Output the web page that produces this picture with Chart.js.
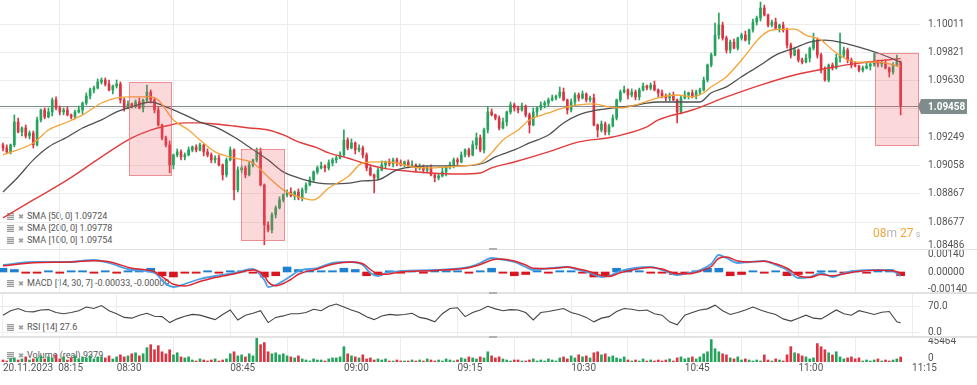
<!DOCTYPE html>
<html>
<head>
<meta charset="utf-8">
<title>EUR/USD 30s chart</title>
<script src="https://cdn.jsdelivr.net/npm/chart.js@4.4.1/dist/chart.umd.min.js"></script>
<style>
html,body{margin:0;padding:0;background:#ffffff;}
#wrap{position:relative;width:977px;height:385px;overflow:hidden;font-family:Roboto,"Liberation Sans",Arial,sans-serif;}
#wrap canvas{position:absolute;left:0;top:0;z-index:1;}
.lg{position:absolute;left:7px;height:11px;line-height:11px;font-size:9px;color:#555;white-space:nowrap;z-index:0;}
.ham{display:inline-block;width:7px;height:7px;vertical-align:-1px;background:repeating-linear-gradient(#9c9c9c 0 1px,#dadada 1px 2px);margin-right:4px;}
.xx{display:inline-block;width:7px;font-family:"DejaVu Sans";font-size:7px;color:#9a9a9a;margin-right:2px;}
.sep{position:absolute;left:0;width:977px;background:#e2e2e2;z-index:3;}
.hdl{position:absolute;left:489px;width:8px;height:2px;background:#b0b0b0;z-index:4;}
#timer{position:absolute;left:873px;top:226px;font-size:12px;line-height:14px;white-space:nowrap;z-index:5;}
#timer .o{color:#f5a33a;}
#timer .g{color:#b5b5b5;}
</style>
</head>
<body>
<div id="wrap">
  <div class="lg" style="top:211px"><span class="ham"></span><span class="xx">✖</span>SMA [50, 0] 1.09724</div>
  <div class="lg" style="top:223px"><span class="ham"></span><span class="xx">✖</span>SMA [200, 0] 1.09778</div>
  <div class="lg" style="top:235px"><span class="ham"></span><span class="xx">✖</span>SMA [100, 0] 1.09754</div>
  <div class="lg" style="top:278px"><span class="ham"></span><span class="xx">✖</span>MACD [14, 30, 7] -0.00033, -0.00009</div>
  <div class="lg" style="top:322px"><span class="ham"></span><span class="xx">✖</span>RSI [14] 27.6</div>
  <div class="lg" style="top:350px"><span class="ham"></span><span class="xx">✖</span>Volume (real) 9379</div>
  <canvas id="cMain" width="977" height="385"></canvas>
  <canvas id="cMacd" width="977" height="385"></canvas>
  <canvas id="cRsi" width="977" height="385"></canvas>
  <canvas id="cVol" width="977" height="385"></canvas>
  <div class="sep" style="top:249px;height:1px"></div>
  <div class="sep" style="top:292px;height:2px"></div>
  <div class="sep" style="top:336px;height:2px"></div>
  <div class="hdl" style="top:248px"></div>
  <div class="hdl" style="top:292px"></div>
  <div class="hdl" style="top:336px"></div>
  <div id="timer"><span class="o">08</span><span class="g">m</span> <span class="o">27</span><span class="g" style="font-size:9px"> s</span></div>
</div>
<script>
// ---------- axis categories / ticks ----------
const timeTickIdx = [0,30,60,90,120,150,180,210,240];
const timeLabels = ['20.11.2023  08:15','08:30','08:45','09:00','09:15','10:30','10:45','11:00','11:15'];
const priceTicks = [1.10011,1.09821,1.09630,1.09440,1.09249,1.09058,1.08867,1.08677];
const priceBottomTick = 1.08486;
const macdTicks = [0.0014,0,-0.0014];
const rsiTicks = [70,0];
const volTicks = [45464,0];
const lastPrice = 1.09458;

// ---------- candles (30 s) ----------
const candleOpen = [1.09197,1.09176,1.09150,1.09197,1.09351,1.09284,1.09311,1.09257,1.09277,1.09197,
1.09365,1.09432,1.09385,1.09419,1.09500,1.09446,1.09419,1.09432,1.09399,1.09385,
1.09419,1.09432,1.09479,1.09526,1.09567,1.09580,1.09621,1.09634,1.09607,1.09567,
1.09594,1.09607,1.09500,1.09446,1.09473,1.09459,1.09486,1.09446,1.09500,1.09553,
1.09500,1.09432,1.09331,1.09244,1.09197,1.09062,1.09129,1.09150,1.09116,1.09129,
1.09163,1.09183,1.09163,1.09197,1.09150,1.09129,1.09096,1.09109,1.09062,1.08995,
1.09096,1.09163,1.08894,1.09028,1.09042,1.08995,1.09062,1.09096,1.09150,1.08927,
1.08658,1.08625,1.08726,1.08773,1.08827,1.08860,1.08880,1.08853,1.08880,1.08840,
1.08894,1.08927,1.08961,1.09015,1.09042,1.09055,1.09042,1.09076,1.09096,1.09109,
1.09129,1.09230,1.09176,1.09210,1.09163,1.09176,1.09129,1.09042,1.08995,1.08975,
1.09028,1.09062,1.09082,1.09069,1.09096,1.09076,1.09062,1.09082,1.09055,1.09062,
1.09042,1.09049,1.09028,1.09042,1.08995,1.08975,1.08988,1.09015,1.09049,1.09062,
1.09096,1.09082,1.09129,1.09163,1.09129,1.09197,1.09244,1.09163,1.09298,1.09419,
1.09399,1.09378,1.09311,1.09351,1.09419,1.09466,1.09446,1.09432,1.09459,1.09399,
1.09331,1.09419,1.09446,1.09466,1.09479,1.09500,1.09513,1.09526,1.09553,1.09500,
1.09432,1.09486,1.09533,1.09513,1.09540,1.09500,1.09513,1.09331,1.09298,1.09338,
1.09284,1.09325,1.09378,1.09500,1.09553,1.09567,1.09533,1.09553,1.09520,1.09567,
1.09594,1.09580,1.09600,1.09567,1.09547,1.09526,1.09513,1.09533,1.09500,1.09419,
1.09513,1.09533,1.09547,1.09526,1.09553,1.09567,1.09634,1.09735,1.09802,1.09937,
1.10004,1.09917,1.09836,1.09890,1.09849,1.09917,1.09937,1.09903,1.09971,1.10024,
1.10051,1.10119,1.10072,1.10004,1.10024,1.09984,1.10004,1.09971,1.09870,1.09802,
1.09836,1.09769,1.09755,1.09782,1.09849,1.09903,1.09802,1.09701,1.09634,1.09735,
1.09715,1.09782,1.09802,1.09836,1.09769,1.09735,1.09728,1.09701,1.09715,1.09728,
1.09742,1.09755,1.09742,1.09749,1.09715,1.09688,1.09735,1.09755];
const candleHigh = [1.09210,1.09197,1.09203,1.09399,1.09378,1.09318,1.09331,1.09291,1.09291,1.09385,
1.09439,1.09446,1.09446,1.09513,1.09520,1.09459,1.09446,1.09452,1.09405,1.09432,
1.09459,1.09486,1.09547,1.09580,1.09594,1.09641,1.09648,1.09648,1.09634,1.09600,
1.09634,1.09621,1.09513,1.09493,1.09479,1.09500,1.09513,1.09506,1.09600,1.09567,
1.09513,1.09452,1.09338,1.09257,1.09224,1.09136,1.09170,1.09163,1.09143,1.09183,
1.09190,1.09197,1.09210,1.09203,1.09170,1.09143,1.09123,1.09129,1.09069,1.09109,
1.09183,1.09170,1.09049,1.09055,1.09055,1.09082,1.09102,1.09176,1.09176,1.08934,
1.08678,1.08739,1.08786,1.08847,1.08867,1.08894,1.08907,1.08887,1.08901,1.08907,
1.08941,1.08981,1.09022,1.09055,1.09082,1.09062,1.09096,1.09109,1.09123,1.09150,
1.09298,1.09244,1.09237,1.09217,1.09197,1.09190,1.09143,1.09062,1.09001,1.09042,
1.09089,1.09089,1.09102,1.09109,1.09109,1.09096,1.09089,1.09096,1.09089,1.09069,
1.09069,1.09062,1.09055,1.09062,1.09001,1.09001,1.09042,1.09055,1.09082,1.09109,
1.09109,1.09150,1.09170,1.09176,1.09224,1.09277,1.09264,1.09311,1.09452,1.09439,
1.09405,1.09392,1.09378,1.09425,1.09486,1.09479,1.09459,1.09479,1.09466,1.09412,
1.09446,1.09452,1.09486,1.09493,1.09513,1.09533,1.09533,1.09587,1.09580,1.09506,
1.09506,1.09547,1.09547,1.09560,1.09547,1.09526,1.09540,1.09338,1.09358,1.09351,
1.09338,1.09399,1.09506,1.09567,1.09594,1.09574,1.09574,1.09567,1.09580,1.09614,
1.09600,1.09614,1.09627,1.09574,1.09567,1.09540,1.09547,1.09553,1.09506,1.09526,
1.09560,1.09553,1.09567,1.09567,1.09580,1.09654,1.09742,1.09816,1.10018,1.10085,
1.10024,1.09930,1.09903,1.09910,1.09923,1.09950,1.09964,1.09977,1.10045,1.10065,
1.10159,1.10139,1.10078,1.10038,1.10051,1.10011,1.10024,1.09984,1.09883,1.09856,
1.09843,1.09782,1.09809,1.09856,1.09950,1.09917,1.09816,1.09722,1.09742,1.09749,
1.09809,1.09950,1.09856,1.09849,1.09782,1.09755,1.09735,1.09728,1.09755,1.09749,
1.09816,1.09769,1.09762,1.09769,1.09722,1.09749,1.09802,1.09762];
const candleLow = [1.09156,1.09143,1.09136,1.09183,1.09277,1.09257,1.09244,1.09237,1.09176,1.09190,
1.09351,1.09372,1.09378,1.09392,1.09432,1.09399,1.09399,1.09392,1.09372,1.09372,
1.09412,1.09405,1.09466,1.09506,1.09547,1.09574,1.09607,1.09594,1.09560,1.09540,
1.09580,1.09479,1.09425,1.09439,1.09446,1.09446,1.09439,1.09419,1.09486,1.09479,
1.09412,1.09325,1.09230,1.09183,1.09008,1.09035,1.09116,1.09096,1.09096,1.09123,
1.09150,1.09150,1.09156,1.09123,1.09116,1.09076,1.09076,1.09055,1.08961,1.08981,
1.09089,1.08827,1.08880,1.09008,1.08975,1.08988,1.09049,1.09082,1.08921,1.08524,
1.08611,1.08604,1.08705,1.08766,1.08813,1.08847,1.08847,1.08827,1.08827,1.08820,
1.08874,1.08921,1.08948,1.09001,1.09035,1.09015,1.09028,1.09055,1.09076,1.09102,
1.09116,1.09163,1.09170,1.09136,1.09150,1.09109,1.09022,1.08988,1.08874,1.08961,
1.09022,1.09035,1.09055,1.09049,1.09055,1.09055,1.09049,1.09042,1.09049,1.09015,
1.09028,1.09008,1.09008,1.08988,1.08948,1.08961,1.08981,1.08988,1.09035,1.09042,
1.09062,1.09076,1.09116,1.09116,1.09123,1.09170,1.09150,1.09143,1.09277,1.09392,
1.09365,1.09298,1.09304,1.09325,1.09405,1.09425,1.09412,1.09425,1.09385,1.09277,
1.09325,1.09392,1.09432,1.09446,1.09459,1.09493,1.09500,1.09513,1.09493,1.09405,
1.09419,1.09466,1.09493,1.09506,1.09486,1.09486,1.09325,1.09250,1.09284,1.09264,
1.09264,1.09318,1.09365,1.09486,1.09547,1.09506,1.09520,1.09500,1.09500,1.09560,
1.09567,1.09567,1.09560,1.09520,1.09513,1.09493,1.09493,1.09493,1.09345,1.09405,
1.09506,1.09506,1.09513,1.09506,1.09533,1.09560,1.09621,1.09722,1.09796,1.09910,
1.09903,1.09816,1.09816,1.09843,1.09836,1.09903,1.09897,1.09876,1.09957,1.10004,
1.10031,1.10065,1.09991,1.09991,1.09977,1.09957,1.09957,1.09849,1.09782,1.09796,
1.09755,1.09742,1.09749,1.09755,1.09836,1.09782,1.09681,1.09627,1.09621,1.09701,
1.09708,1.09755,1.09789,1.09749,1.09715,1.09722,1.09688,1.09688,1.09708,1.09701,
1.09728,1.09722,1.09722,1.09708,1.09654,1.09674,1.09728,1.09399];
const candleClose = [1.09176,1.09150,1.09197,1.09351,1.09284,1.09311,1.09257,1.09277,1.09197,1.09365,
1.09432,1.09385,1.09419,1.09500,1.09446,1.09419,1.09432,1.09399,1.09385,1.09419,
1.09432,1.09479,1.09526,1.09567,1.09580,1.09621,1.09634,1.09607,1.09567,1.09594,
1.09607,1.09500,1.09446,1.09473,1.09459,1.09486,1.09446,1.09500,1.09553,1.09500,
1.09432,1.09331,1.09244,1.09197,1.09062,1.09129,1.09150,1.09116,1.09129,1.09163,
1.09183,1.09163,1.09197,1.09150,1.09129,1.09096,1.09109,1.09062,1.08995,1.09096,
1.09163,1.08894,1.09028,1.09042,1.08995,1.09062,1.09096,1.09150,1.08927,1.08658,
1.08625,1.08726,1.08773,1.08827,1.08860,1.08880,1.08853,1.08880,1.08840,1.08894,
1.08927,1.08961,1.09015,1.09042,1.09055,1.09042,1.09076,1.09096,1.09109,1.09129,
1.09230,1.09176,1.09210,1.09163,1.09176,1.09129,1.09042,1.08995,1.08975,1.09028,
1.09062,1.09082,1.09069,1.09096,1.09076,1.09062,1.09082,1.09055,1.09062,1.09042,
1.09049,1.09028,1.09042,1.08995,1.08975,1.08988,1.09015,1.09049,1.09062,1.09096,
1.09082,1.09129,1.09163,1.09129,1.09197,1.09244,1.09163,1.09298,1.09419,1.09399,
1.09378,1.09311,1.09351,1.09419,1.09466,1.09446,1.09432,1.09459,1.09399,1.09331,
1.09419,1.09446,1.09466,1.09479,1.09500,1.09513,1.09526,1.09553,1.09500,1.09432,
1.09486,1.09533,1.09513,1.09540,1.09500,1.09513,1.09331,1.09298,1.09338,1.09284,
1.09325,1.09378,1.09500,1.09553,1.09567,1.09533,1.09553,1.09520,1.09567,1.09594,
1.09580,1.09600,1.09567,1.09547,1.09526,1.09513,1.09533,1.09500,1.09419,1.09513,
1.09533,1.09547,1.09526,1.09553,1.09567,1.09634,1.09735,1.09802,1.09937,1.10004,
1.09917,1.09836,1.09890,1.09849,1.09917,1.09937,1.09903,1.09971,1.10024,1.10051,
1.10119,1.10072,1.10004,1.10024,1.09984,1.10004,1.09971,1.09870,1.09802,1.09836,
1.09769,1.09755,1.09782,1.09849,1.09903,1.09802,1.09701,1.09634,1.09735,1.09715,
1.09782,1.09802,1.09836,1.09769,1.09735,1.09728,1.09701,1.09715,1.09728,1.09742,
1.09755,1.09742,1.09749,1.09715,1.09688,1.09735,1.09755,1.09459];

// ---------- moving averages (candle index, price) ----------
const sma50Idx = [0,8,12,17,21,26,30,34,39,41,45,49,52,56,61,66,70,74,78,82,86,91,95,100,104,108,113,117,121,126,129,132,136,139,144,148,152,156,160,163,167,174,178,182,185,187,191,195,200,203,209,212,216,219,223,226,231,237];
const sma50 = [1.09130,1.09210,1.09297,1.09351,1.09399,1.09479,1.09514,1.09520,1.09520,1.09499,1.09365,1.09297,1.09230,1.09150,1.09109,1.09075,1.08981,1.08894,1.08847,1.08826,1.08907,1.08981,1.09075,1.09082,1.09075,1.09048,1.09042,1.09048,1.09055,1.09075,1.09143,1.09230,1.09297,1.09365,1.09412,1.09446,1.09466,1.09473,1.09453,1.09446,1.09466,1.09520,1.09533,1.09520,1.09548,1.09588,1.09656,1.09769,1.09924,1.09971,1.09977,1.09937,1.09903,1.09836,1.09769,1.09755,1.09755,1.09724];
const sma100Idx = [0,4,8,12,17,21,26,30,34,39,43,48,52,56,61,65,70,74,78,83,86,92,95,99,104,108,113,121,127,130,135,139,144,148,152,157,161,166,170,173,184,187,191,195,200,204,209,213,217,222,226,231,237];
const sma100 = [1.08880,1.08981,1.09096,1.09183,1.09250,1.09311,1.09365,1.09419,1.09453,1.09486,1.09453,1.09399,1.09351,1.09318,1.09250,1.09183,1.09096,1.09015,1.08975,1.08941,1.08934,1.08941,1.08954,1.08961,1.09028,1.09048,1.09055,1.09055,1.09075,1.09116,1.09163,1.09210,1.09264,1.09345,1.09399,1.09432,1.09446,1.09459,1.09479,1.09486,1.09486,1.09548,1.09588,1.09656,1.09735,1.09802,1.09849,1.09890,1.09903,1.09883,1.09856,1.09816,1.09754];
const sma200Idx = [0,8,17,26,34,39,43,48,52,56,61,65,70,74,78,83,86,91,95,100,104,113,120,126,129,135,144,152,161,170,173,182,191,200,209,218,226,237];
const sma200 = [1.08705,1.08826,1.08961,1.09116,1.09244,1.09297,1.09324,1.09345,1.09345,1.09338,1.09324,1.09311,1.09297,1.09264,1.09217,1.09177,1.09143,1.09109,1.09075,1.09042,1.09028,1.09008,1.09001,1.09008,1.09042,1.09082,1.09150,1.09217,1.09250,1.09318,1.09365,1.09432,1.09520,1.09600,1.09668,1.09715,1.09748,1.09778];

// ---------- highlighted zones (candle index range, price range) ----------
const zoneStart = [33.3,62.8,230.2];
const zoneEnd = [44.4,74.2,241.6];
const zoneHigh = [1.09621,1.09170,1.09816];
const zoneLow = [1.08995,1.08557,1.09197];

// ---------- MACD ----------
const macdIdx = [0,8,17,24,28,34,40,43,45,48,52,56,61,66,69,70,72,76,78,83,87,92,95,97,99,101,105,114,123,126,129,131,135,138,140,145,149,152,155,158,160,163,171,174,178,181,184,187,189,191,194,197,201,204,207,210,213,216,219,222,225,231,235,237];
const macdLine = [0.00056,0.00080,0.00080,0.00096,0.00072,0.00016,-0.00008,-0.00096,-0.00120,-0.00096,
-0.00056,-0.00032,-0.00008,0.00024,-0.00064,-0.00120,-0.00104,-0.00032,0.00008,0.00032,
0.00072,0.00080,0.00056,-0.00008,-0.00032,-0.00008,0.00008,0.00016,0.00040,0.00072,
0.00112,0.00104,0.00080,0.00040,0.00016,0.00032,0.00040,0.00016,-0.00008,-0.00040,
-0.00032,0.00008,0.00040,0.00016,-0.00024,-0.00008,0.00016,0.00064,0.00136,0.00112,
0.00072,0.00080,0.00088,0.00056,0.00016,-0.00048,-0.00040,-0.00008,-0.00040,-0.00008,
0.00008,0.00016,0.00008,-0.00033];
const signalLine = [0.00050,0.00074,0.00080,0.00090,0.00082,0.00030,0.00002,-0.00060,-0.00098,-0.00112,
-0.00076,-0.00044,-0.00016,0.00016,-0.00030,-0.00080,-0.00110,-0.00060,-0.00018,0.00024,
0.00062,0.00080,0.00066,0.00020,-0.00016,-0.00018,0.00000,0.00012,0.00034,0.00060,
0.00096,0.00104,0.00088,0.00056,0.00030,0.00028,0.00040,0.00024,0.00002,-0.00028,
-0.00036,-0.00006,0.00036,0.00024,-0.00014,-0.00014,0.00006,0.00044,0.00110,0.00120,
0.00088,0.00080,0.00086,0.00066,0.00030,-0.00030,-0.00044,-0.00020,-0.00030,-0.00016,
0.00002,0.00014,0.00010,-0.00009];
const HIST_STEP = 3;
const histValues = [0.0003,0.0002,-0.0001,-0.0001,0.0001,-0.0001,0.0001,0.0001,-0.0001,0.0001,
-0.0001,0.0001,0.0002,0.0003,-0.0003,-0.0004,-0.0001,-0.0001,0.0001,-0.0001,
0.0001,0.0001,-0.0001,-0.0004,-0.0003,0.0004,0.0002,0.0001,0.0001,0.0001,
0.0003,0.0002,-0.0003,-0.0003,0.0001,-0.0001,0.0001,-0.0001,0.0001,0.0001,
0.0001,-0.0001,0.0001,0.0003,-0.0001,-0.0003,-0.0002,0.0001,-0.0001,0.0001,
0.0001,-0.0001,-0.0004,-0.0003,0.0003,0.0002,0.0001,-0.0001,-0.0001,-0.0002,
-0.0001,0.0001,0.0003,0.0003,-0.0003,-0.0002,0.0001,-0.0001,0.0001,-0.0003,
-0.0002,-0.0001,0.0001,0.0001,-0.0001,0.0001,-0.0001,0.0001,0.0002,-0.0003];

// ---------- RSI (every 2nd candle, last candle) ----------
const rsiValues = [48,60,66,58,57,62,63,55,52,55,
60,70,66,74,60,52,42,40,48,53,
45,44,28,38,45,50,48,42,36,50,
62,35,48,53,60,28,42,46,52,52,
55,64,60,72,78,70,62,55,44,36,
46,50,48,50,53,42,38,30,52,66,
68,44,55,62,72,65,60,63,62,55,
35,55,58,62,66,55,50,42,30,40,
44,58,66,64,60,62,52,48,30,22,
48,55,62,65,75,60,50,55,62,70,
62,55,50,38,32,40,48,40,38,50,
62,52,48,60,55,50,56,58,30,27.6];

// ---------- Volume ----------
const volume = [3800,1900,5800,7700,3800,5800,9600,3800,5800,
7700,11500,5800,9600,7700,13400,5800,9600,3800,7700,11500,5800,9600,7700,11500,5800,9600,
9600,7700,11500,5800,9600,
13400,9600,11500,15400,
17300,11500,15400,
26900,32600,23000,30700,
19200,15400,23000,13400,17300,
9600,7700,9600,
3800,1900,5800,3800,1900,3800,5800,1900,3800,5800,
15400,19200,
11500,13400,9600,15400,11500,
45464,32600,36500,
19200,15400,17300,13400,15400,11500,
9600,7700,11500,5800,
3800,1900,5800,3800,3800,1900,5800,7700,
7700,9600,28800,
15400,11500,9600,7700,13400,
5800,7700,3800,5800,3800,5800,
1900,1900,3800,1900,1900,1900,3800,
1900,3800,1900,5800,3800,1900,3800,1900,5800,3800,1900,3800,
7700,5800,9600,7700,5800,9600,7700,19200,
11500,7700,9600,5800,
3800,1900,3800,3800,1900,
1900,3800,5800,1900,3800,1900,5800,3800,1900,
7700,9600,5800,11500,7700,13400,9600,11500,7700,
17300,19200,13400,15400,
9600,11500,7700,5800,9600,
3800,1900,3800,1900,5800,1900,3800,1900,
3800,1900,3800,5800,1900,
7700,9600,5800,7700,9600,5800,9600,
15400,19200,
42200,
25000,19200,15400,13400,
7700,5800,9600,3800,5800,3800,
1900,3800,1900,13400,3800,1900,5800,3800,1900,
13400,28800,
17300,15400,11500,
9600,5800,7700,
34600,28800,
23000,17300,13400,19200,
9600,5800,7700,9600,5800,7700,
1900,3800,1900,3800,5800,1900,3800,1900,3800,5800,
9379];

// ---------- setup ----------
const FONT = 'Roboto, "Liberation Sans", Arial, sans-serif';
Chart.defaults.font.family = FONT;
Chart.defaults.font.size = 10;
Chart.defaults.color = '#555';

const XMIN = -0.792, XMAX = 242.11;
const PMIN = 1.08489, PMAX = 1.10173;
const UP = '#25a35c', DOWN = '#de3442';
const dirColor = candleClose.map((c,i) => c >= candleOpen[i] ? UP : DOWN);

function noPad(s){ s.paddingTop=0; s.paddingBottom=0; s.paddingLeft=0; s.paddingRight=0; }
function xAxis(show){
  return {type:'linear', min:XMIN, max:XMAX, offset:false,
    border:{display:false},
    grid:{color:'#ececec', lineWidth:1, drawTicks:false},
    ticks:{display:show, padding:0, align:'start', maxRotation:0, autoSkip:false, color:'#555', font:{size:10},
      callback:(v,i) => timeLabels[i]},
    afterBuildTicks:s => { s.ticks = timeTickIdx.map(v => ({value:v})); },
    afterFit:s => { s.height = show ? 23 : 0; noPad(s); }};
}
function yAxis(min,max,ticks,fmt,grid,labels){
  return {position:'right', min, max,
    border:{display:false},
    grid:{display:grid, color:'#ececec', drawTicks:false},
    ticks:{display:labels, padding:8, color:'#555', font:{size:10}, callback:v => fmt(v)},
    afterBuildTicks:s => { s.ticks = ticks.map(v => ({value:v})); },
    afterFit:s => { s.width = 57; noPad(s); }};
}
function baseOpts(padTop, padBottom, scales){
  return {responsive:false, animation:false, devicePixelRatio:1, events:[],
    layout:{padding:{top:padTop, bottom:padBottom, left:0, right:0}},
    plugins:{legend:{display:false}, tooltip:{enabled:false}},
    scales};
}
function lineDs(idx, vals, color, width){
  return {type:'line', data:idx.map((x,k) => ({x, y:vals[k]})), borderColor:color, borderWidth:width,
    pointRadius:0, tension:0.4, cubicInterpolationMode:'monotone', fill:false};
}

const mainOverlay = {
  id:'mainOverlay',
  beforeDatasetsDraw(chart){
    const {ctx, chartArea:a, scales:{y}} = chart;
    const py = Math.round(y.getPixelForValue(lastPrice)) + 0.5;
    ctx.save(); ctx.strokeStyle = '#7f8c8c'; ctx.lineWidth = 1;
    ctx.beginPath(); ctx.moveTo(a.left, py); ctx.lineTo(a.right, py); ctx.stroke(); ctx.restore();
  },
  afterDatasetsDraw(chart){
    const {ctx, scales:{x,y}} = chart;
    ctx.save();
    for (let k = 0; k < zoneStart.length; k++){
      const x0 = Math.round(x.getPixelForValue(zoneStart[k])) + 0.5, x1 = Math.round(x.getPixelForValue(zoneEnd[k])) + 0.5;
      const y0 = Math.round(y.getPixelForValue(zoneHigh[k])) + 0.5, y1 = Math.round(y.getPixelForValue(zoneLow[k])) + 0.5;
      ctx.fillStyle = 'rgba(238,90,100,0.24)';
      ctx.fillRect(x0, y0, x1 - x0, y1 - y0);
      ctx.strokeStyle = 'rgba(232,110,118,0.75)'; ctx.lineWidth = 1;
      ctx.strokeRect(x0, y0, x1 - x0, y1 - y0);
    }
    ctx.restore();
  },
  afterDraw(chart){
    const {ctx, chartArea:a, scales:{y}} = chart;
    ctx.save();
    ctx.font = '10px ' + FONT; ctx.fillStyle = '#555'; ctx.textBaseline = 'middle'; ctx.textAlign = 'left';
    ctx.fillText(priceBottomTick.toFixed(5), a.right + 8, Math.min(y.getPixelForValue(priceBottomTick), a.bottom - 5));
    const py = Math.round(y.getPixelForValue(lastPrice)) + 0.5;
    const x0 = a.right - 2, bx = a.right + 1, bw = 46, h = 15;
    ctx.fillStyle = '#7f8c8c';
    ctx.beginPath();
    ctx.moveTo(x0, py); ctx.lineTo(bx, py - h/2); ctx.lineTo(bx + bw, py - h/2);
    ctx.lineTo(bx + bw, py + h/2); ctx.lineTo(bx, py + h/2); ctx.closePath(); ctx.fill();
    ctx.fillStyle = '#ffffff'; ctx.font = 'bold 10px ' + FONT;
    ctx.fillText(lastPrice.toFixed(5), a.right + 8, py + 0.5);
    ctx.restore();
  }
};

new Chart(document.getElementById('cMain'), {
  type:'bar',
  data:{datasets:[
    lineDs(sma50Idx, sma50, '#f6a335', 1.3),
    lineDs(sma100Idx, sma100, '#505050', 1.3),
    lineDs(sma200Idx, sma200, '#e23b3b', 1.4),
    {type:'bar', data:candleOpen.map((o,i) => ({x:i, y:[o, candleClose[i]]})), backgroundColor:dirColor,
      barThickness:2, minBarLength:1, grouped:false},
    {type:'bar', data:candleLow.map((l,i) => ({x:i, y:[l, candleHigh[i]]})), backgroundColor:dirColor,
      barThickness:1, grouped:false}
  ]},
  options:baseOpts(0, 135, {x:xAxis(false), y:yAxis(PMIN, PMAX, priceTicks, v => v.toFixed(5), true, true)}),
  plugins:[mainOverlay]
});

new Chart(document.getElementById('cMacd'), {
  type:'bar',
  data:{datasets:[
    lineDs(macdIdx, signalLine, '#e0252d', 1.5),
    lineDs(macdIdx, macdLine, '#4aa0e6', 1.8),
    {type:'bar', data:histValues.map((v,k) => ({x:k*HIST_STEP, y:v})),
      backgroundColor:histValues.map(v => v >= 0 ? '#1f7fd1' : '#d9151f'), barThickness:8, grouped:false}
  ]},
  options:baseOpts(251, 92, {x:xAxis(false), y:yAxis(-0.00168, 0.00168, macdTicks, v => v.toFixed(5), false, true)})
});

new Chart(document.getElementById('cRsi'), {
  type:'line',
  data:{datasets:[
    {data:rsiValues.map((v,k) => ({x: k < rsiValues.length - 1 ? 2*k : candleClose.length - 1, y:v})),
      borderColor:'#444444', borderWidth:1.1, pointRadius:0, tension:0, fill:false}
  ]},
  options:baseOpts(293, 48, {x:xAxis(false), y:yAxis(-10.8, 107.7, rsiTicks, v => v.toFixed(1), true, true)})
});

const volLabels = {
  id:'volLabels',
  afterDraw(chart){
    const {ctx, chartArea:a, scales:{y}} = chart;
    ctx.save(); ctx.font = '10px ' + FONT; ctx.fillStyle = '#555'; ctx.textBaseline = 'middle'; ctx.textAlign = 'left';
    ctx.fillText(String(volTicks[0]), a.right + 8, y.getPixelForValue(volTicks[0]) + 4);
    ctx.fillText(String(volTicks[1]), a.right + 8, y.getPixelForValue(volTicks[1]) - 4);
    ctx.restore();
  }
};
new Chart(document.getElementById('cVol'), {
  type:'bar',
  data:{datasets:[
    {data:volume.map((v,i) => ({x:i, y:v})), backgroundColor:dirColor, barThickness:2, grouped:false}
  ]},
  options:baseOpts(337, 0, {x:xAxis(true), y:yAxis(0, 47000, volTicks, v => String(v), false, false)}),
  plugins:[volLabels]
});
</script>
</body>
</html>
